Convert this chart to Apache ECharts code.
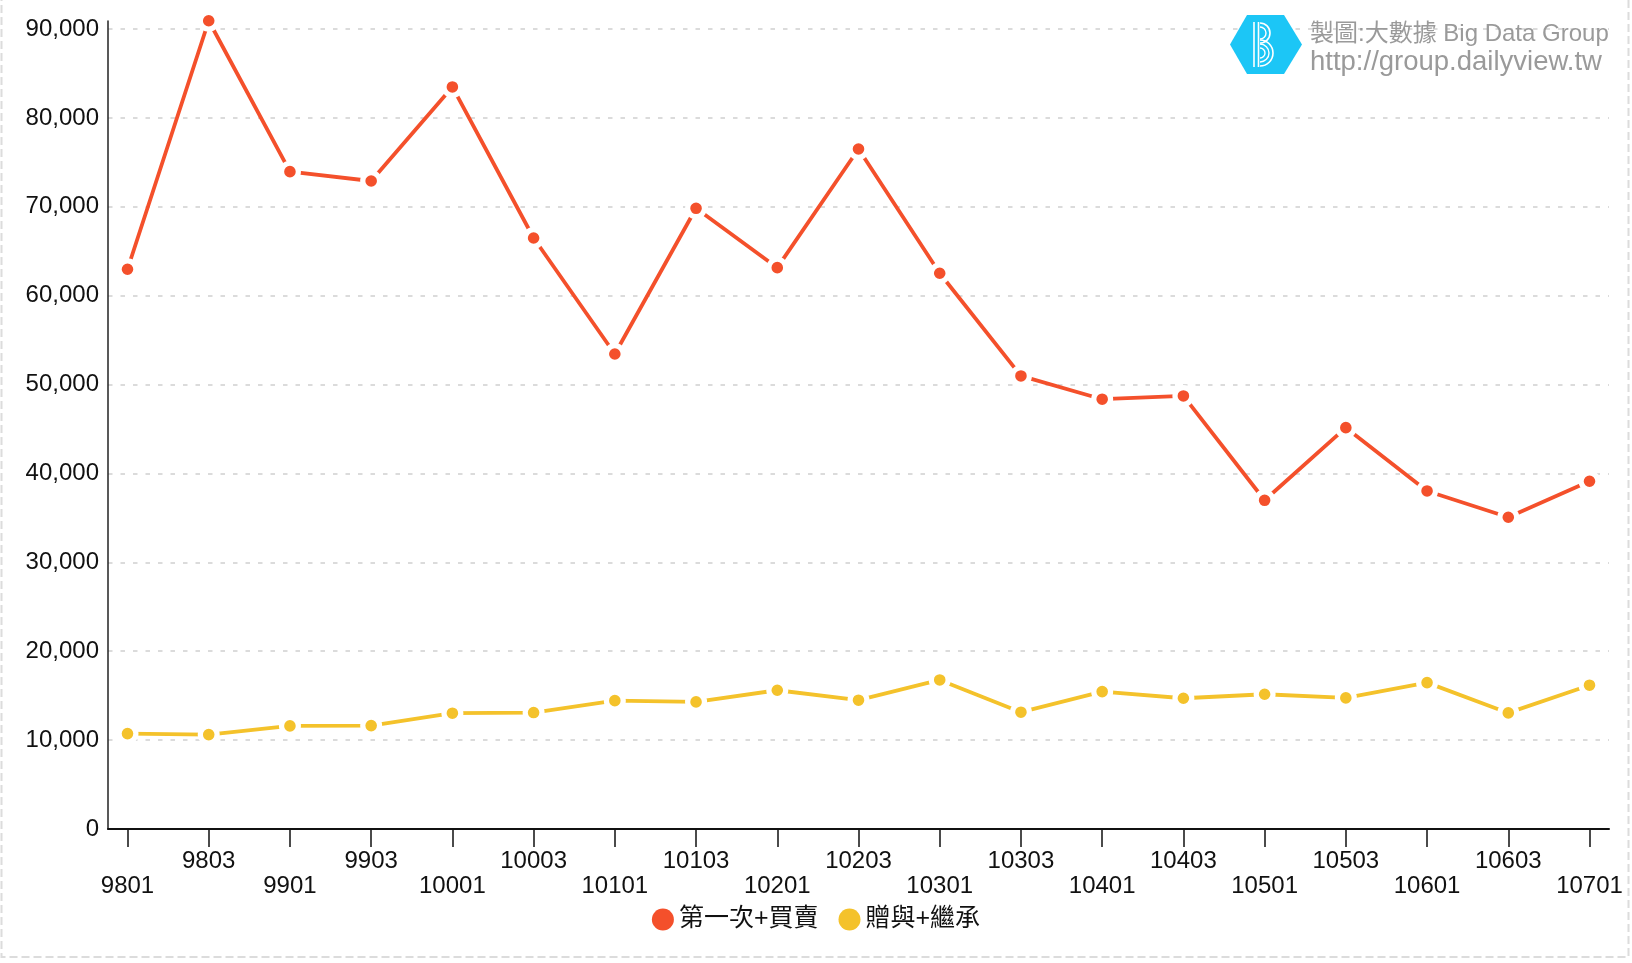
<!DOCTYPE html>
<html>
<head>
<meta charset="utf-8">
<script src="https://cdn.jsdelivr.net/npm/echarts@6/dist/echarts.min.js"></script>
<style>
html,body{margin:0;padding:0;background:#fff;}
#chart{width:1632px;height:963px;}
</style>
</head>
<body>
<div id="chart"></div>
<script>
// ---- data ----
const categories = ['9801','9803','9901','9903','10001','10003','10101','10103','10201','10203',
  '10301','10303','10401','10403','10501','10503','10601','10603','10701'];
const seriesNames = ['第一次+買賣', '贈與+繼承'];
const firstAndSale = [62970, 90930, 73950, 72900, 83480, 66490, 53440, 69830, 63150, 76500,
  62520, 50970, 48350, 48720, 36980, 45150, 38030, 35070, 39120];
const giftAndInherit = [10730, 10620, 11600, 11630, 13030, 13100, 14440, 14300, 15610, 14490,
  16770, 13140, 15460, 14710, 15160, 14750, 16470, 13060, 16180];
const yTicks = [0, 10000, 20000, 30000, 40000, 50000, 60000, 70000, 80000, 90000];
const creditLines = ['製圖:大數據 Big Data Group', 'http://group.dailyview.tw'];

const colors = ['#f4502b', '#f4c22b'];
const latin = '"Liberation Sans", Arial, Helvetica, sans-serif';
const cjk = '"Liberation Sans", "Noto Sans CJK TC", sans-serif';

function commas(v) { return String(v).replace(/\B(?=(\d{3})+(?!\d))/g, ','); }

const idx = categories.map((c, i) => i);

const chart = echarts.init(document.getElementById('chart'), null, {renderer: 'canvas'});

function mkSeries(name, values, color) {
  return {
    name: name,
    type: 'line',
    data: values.map((v, i) => [i, v]),
    symbol: 'circle',
    symbolSize: 16.8,
    showSymbol: true,
    clip: false,
    itemStyle: {color: color, borderColor: '#fff', borderWidth: 5.2},
    lineStyle: {color: color, width: 3.8},
    emphasis: {disabled: true},
    z: 3
  };
}

const option = {
  backgroundColor: '#fff',
  animation: false,
  grid: {left: 108, right: 23, top: 21, bottom: 134, containLabel: false},
  xAxis: {
    type: 'value',
    min: -0.24,
    max: 18.24,
    splitLine: {show: false},
    axisLine: {show: true, onZero: false, lineStyle: {color: '#111', width: 2}},
    axisTick: {show: true, length: 18, customValues: idx, lineStyle: {color: '#111', width: 1.5}},
    axisLabel: {
      customValues: idx,
      margin: 20,
      color: '#111',
      fontSize: 24,
      fontFamily: latin,
      lineHeight: 25,
      formatter: function (v) {
        const i = Math.round(v);
        const c = categories[i];
        return i % 2 === 1 ? c : '\n' + c;
      }
    }
  },
  yAxis: {
    type: 'value',
    min: 0,
    max: 90900,
    interval: 10000,
    axisLine: {show: true, onZero: false, lineStyle: {color: '#222', width: 1.5}},
    axisTick: {show: false},
    axisLabel: {
      customValues: yTicks,
      margin: 9,
      color: '#111',
      fontSize: 24,
      fontFamily: latin,
      formatter: function (v) { return commas(v); }
    },
    splitLine: {
      show: true,
      showMinLine: false,
      showMaxLine: false,
      lineStyle: {color: '#cfcfcf', width: 1.5, type: [4.5, 8]}
    }
  },
  legend: {
    show: true,
    data: seriesNames,
    left: 'center',
    top: 902,
    icon: 'circle',
    itemWidth: 22,
    itemHeight: 22,
    itemGap: 20,
    itemStyle: {borderWidth: 0},
    textStyle: {fontSize: 25, color: '#111', fontFamily: cjk}
  },
  series: [
    mkSeries(seriesNames[0], firstAndSale, colors[0]),
    mkSeries(seriesNames[1], giftAndInherit, colors[1])
  ],
  graphic: [
    {
      type: 'rect', silent: true, z: 0,
      shape: {x: 1.5, y: -5, width: 1627, height: 962},
      style: {fill: 'none', stroke: '#dcdcdc', lineWidth: 2, lineDash: [8, 4]}
    },
    {
      type: 'polygon', silent: true, z: 10,
      shape: {points: [[1230, 44.5], [1247, 15], [1284, 15], [1302, 44.5], [1284, 74], [1247, 74]]},
      style: {fill: '#1cc6f6'}
    },
    {type: 'line', silent: true, z: 11, shape: {x1: 1254, y1: 22, x2: 1254, y2: 67}, style: {stroke: '#fff', lineWidth: 1.6}},
    {type: 'line', silent: true, z: 11, shape: {x1: 1258.5, y1: 22, x2: 1258.5, y2: 67}, style: {stroke: '#fff', lineWidth: 1.6}},
    {type: 'arc', silent: true, z: 11, shape: {cx: 1260, cy: 33, r: 10, startAngle: -Math.PI / 2, endAngle: Math.PI / 2}, style: {stroke: '#fff', fill: 'none', lineWidth: 1.6}},
    {type: 'arc', silent: true, z: 11, shape: {cx: 1260, cy: 33, r: 6, startAngle: -Math.PI / 2, endAngle: Math.PI / 2}, style: {stroke: '#fff', fill: 'none', lineWidth: 1.4}},
    {type: 'arc', silent: true, z: 11, shape: {cx: 1260, cy: 53, r: 13, startAngle: -Math.PI / 2, endAngle: Math.PI / 2}, style: {stroke: '#fff', fill: 'none', lineWidth: 1.6}},
    {type: 'arc', silent: true, z: 11, shape: {cx: 1260, cy: 53, r: 9, startAngle: -Math.PI / 2, endAngle: Math.PI / 2}, style: {stroke: '#fff', fill: 'none', lineWidth: 1.4}},
    {type: 'arc', silent: true, z: 11, shape: {cx: 1260, cy: 53, r: 5, startAngle: -Math.PI / 2, endAngle: Math.PI / 2}, style: {stroke: '#fff', fill: 'none', lineWidth: 1.4}},
    {
      type: 'text', silent: true, z: 11,
      style: {x: 1310, y: 34, text: creditLines[0], fill: '#9a9a9a', font: '24px ' + cjk, textVerticalAlign: 'middle', textAlign: 'left'}
    },
    {
      type: 'text', silent: true, z: 11,
      style: {x: 1310, y: 62.5, text: creditLines[1], fill: '#9a9a9a', font: '27.5px ' + latin, textVerticalAlign: 'middle', textAlign: 'left'}
    }
  ]
};

chart.setOption(option);
</script>
</body>
</html>
